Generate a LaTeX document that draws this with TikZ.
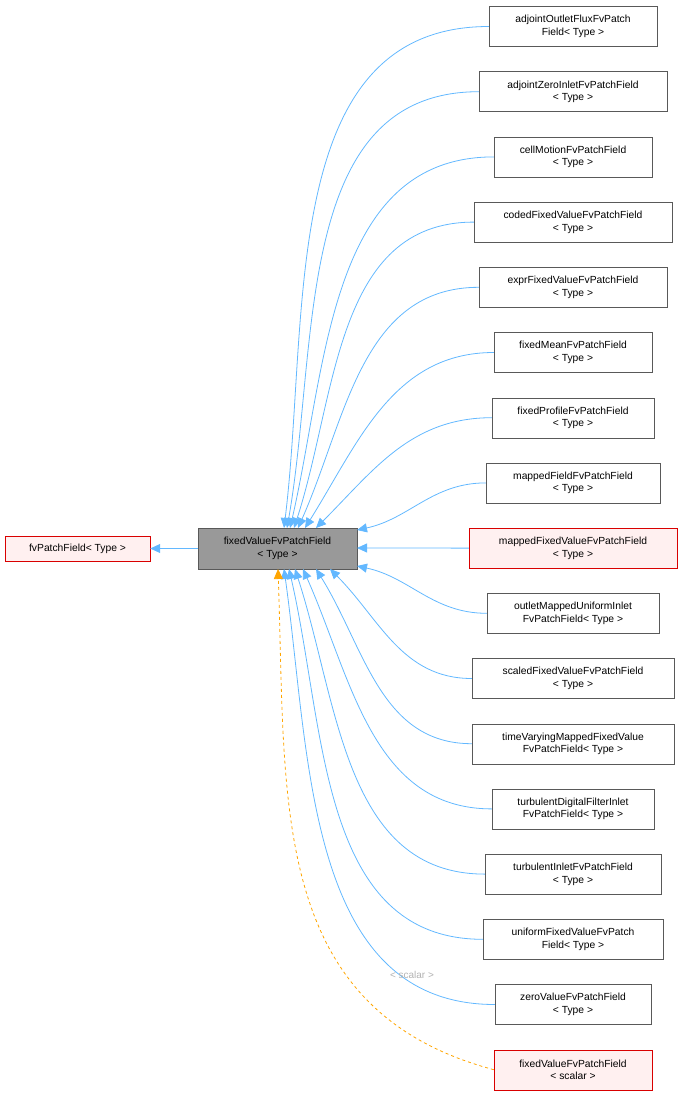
\documentclass[tikz,border=0pt]{standalone}
\usepackage{fontspec}
\setmainfont{Liberation Sans}
\usetikzlibrary{arrows.meta}
\definecolor{eb}{HTML}{63B8FF}
\definecolor{eo}{HTML}{FFA500}
\begin{document}
\begin{tikzpicture}[x=1pt,y=-1pt,
 box/.style={draw=black!65,fill=white,align=center,inner sep=0pt,minimum height=40pt,font=\fontsize{10.3}{12.5}\selectfont},
 red/.style={draw=red!85!black,fill=red!6},
 e/.style={draw=eb,line width=0.8pt,-{Triangle[width=9pt,length=10pt,fill=eb]}},
 lab/.style={font=\fontsize{10}{12}\selectfont,text=black!30}]
\useasboundingbox (0,0) rectangle (683,1097);
\node[box,red,minimum width=145pt,minimum height=25pt] (fv) at (77.5,548.5) {fvPatchField< Type >};
\node[box,fill=black!40,minimum width=159pt,minimum height=41pt] (fx) at (277.5,548.5) {fixedValueFvPatchField\\< Type >};
\foreach \n/\w/\t/\s [count=\i] in {
 a/168/{adjointOutletFluxFvPatch\\Field< Type >}/,
 b/188/{adjointZeroInletFvPatchField\\< Type >}/,
 c/158/{cellMotionFvPatchField\\< Type >}/,
 d/198/{codedFixedValueFvPatchField\\< Type >}/,
 e/188/{exprFixedValueFvPatchField\\< Type >}/,
 f/158/{fixedMeanFvPatchField\\< Type >}/,
 g/162/{fixedProfileFvPatchField\\< Type >}/,
 h/174/{mappedFieldFvPatchField\\< Type >}/,
 i/208/{mappedFixedValueFvPatchField\\< Type >}/red,
 j/172/{outletMappedUniformInlet\\FvPatchField< Type >}/,
 k/202/{scaledFixedValueFvPatchField\\< Type >}/,
 l/202/{timeVaryingMappedFixedValue\\FvPatchField< Type >}/,
 m/162/{turbulentDigitalFilterInlet\\FvPatchField< Type >}/,
 n/176/{turbulentInletFvPatchField\\< Type >}/,
 o/180/{uniformFixedValueFvPatch\\Field< Type >}/,
 p/156/{zeroValueFvPatchField\\< Type >}/,
 q/158/{fixedValueFvPatchField\\< scalar >}/red}
 {\node[box,\s,minimum width=\w pt] (\n) at (573,{26.5+65.2*(\i-1)}) {\t};}
\draw[e] (fx) -- (fv);
\foreach \n/\ex/\ey/\a/\l in {a/284/528/83/1.0, b/287/528/80/1.0, c/290/528/77/1.0, d/294/528/72/1.0, e/298/528/66/1.0, f/305/528/58/1.0, g/316/528/45/1.0, h/357/530/12/1.0, i/357/548/0/1.0, j/357/566/-12/1.0, k/330/569/-45/1.0, l/316/569/-58/1.0, m/303/569/-66/1.0, n/295/569/-72/1.0, o/289/569/-77/1.0, p/284/569/-82/1.0}
 {\draw[e] (\n.west) to[out=180,in=\a,looseness=\l] (\ex,\ey);}
\draw[draw=eo,dashed,line width=0.8pt,-{Triangle[width=9pt,length=10pt,fill=eo]}] (q.west) to[out=165,in=-88,looseness=1.1] (278,569);
\node[lab] (sl) at (412,975) {< scalar >};
\end{tikzpicture}
\end{document}
